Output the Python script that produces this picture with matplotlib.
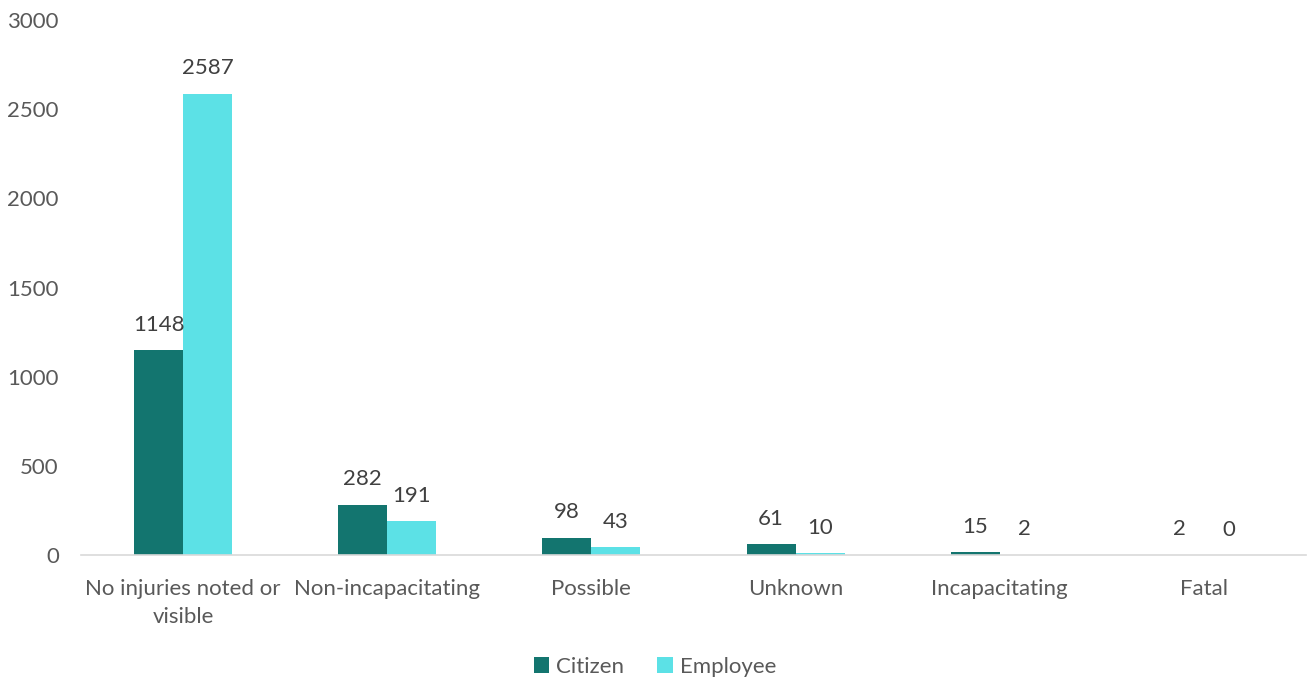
import matplotlib
matplotlib.use("Agg")
import matplotlib.pyplot as plt
import numpy as np

categories = ["No injuries noted or\nvisible", "Non-incapacitating", "Possible",
              "Unknown", "Incapacitating", "Fatal"]
citizen = [1148, 282, 98, 61, 15, 2]
employee = [2587, 191, 43, 10, 2, 0]
yticks = [0, 500, 1000, 1500, 2000, 2500, 3000]

TEXT = "#595959"
FS = 16
plt.rcParams["font.family"] = ["Lato", "DejaVu Sans"]

fig = plt.figure(figsize=(13.1, 6.83), dpi=100)
ax = fig.add_axes([81 / 1310, 1 - 555 / 683, (1306 - 81) / 1310, (555 - 20) / 683])

x = np.arange(len(categories))
w = 0.24
b1 = ax.bar(x - w / 2, citizen, w, color="#13756F", label="Citizen")
b2 = ax.bar(x + w / 2, employee, w, color="#5CE1E6", label="Employee")
for bars in (b1, b2):
    ax.bar_label(bars, padding=11, fontsize=FS, color="#404040")

ax.set_xlim(-0.5, len(categories) - 0.5)
ax.set_ylim(0, 3000)
ax.set_yticks(yticks)
ax.set_xticks(x)
ax.set_xticklabels(categories, linespacing=1.5)
ax.tick_params(axis="both", length=0, labelsize=FS, labelcolor=TEXT)
ax.tick_params(axis="y", pad=16)
ax.tick_params(axis="x", pad=17)
for s in ("top", "right", "left"):
    ax.spines[s].set_visible(False)
ax.spines["bottom"].set_color("#D9D9D9")
ax.spines["bottom"].set_linewidth(1.2)

fig.legend(handles=[b1, b2], loc="center", bbox_to_anchor=(0.5, 1 - 667 / 683),
           ncol=2, frameon=False, fontsize=FS, handlelength=0.7, handleheight=0.7,
           handletextpad=0.3, columnspacing=1.5, labelcolor=TEXT)

fig.savefig("out.png", dpi=100)
